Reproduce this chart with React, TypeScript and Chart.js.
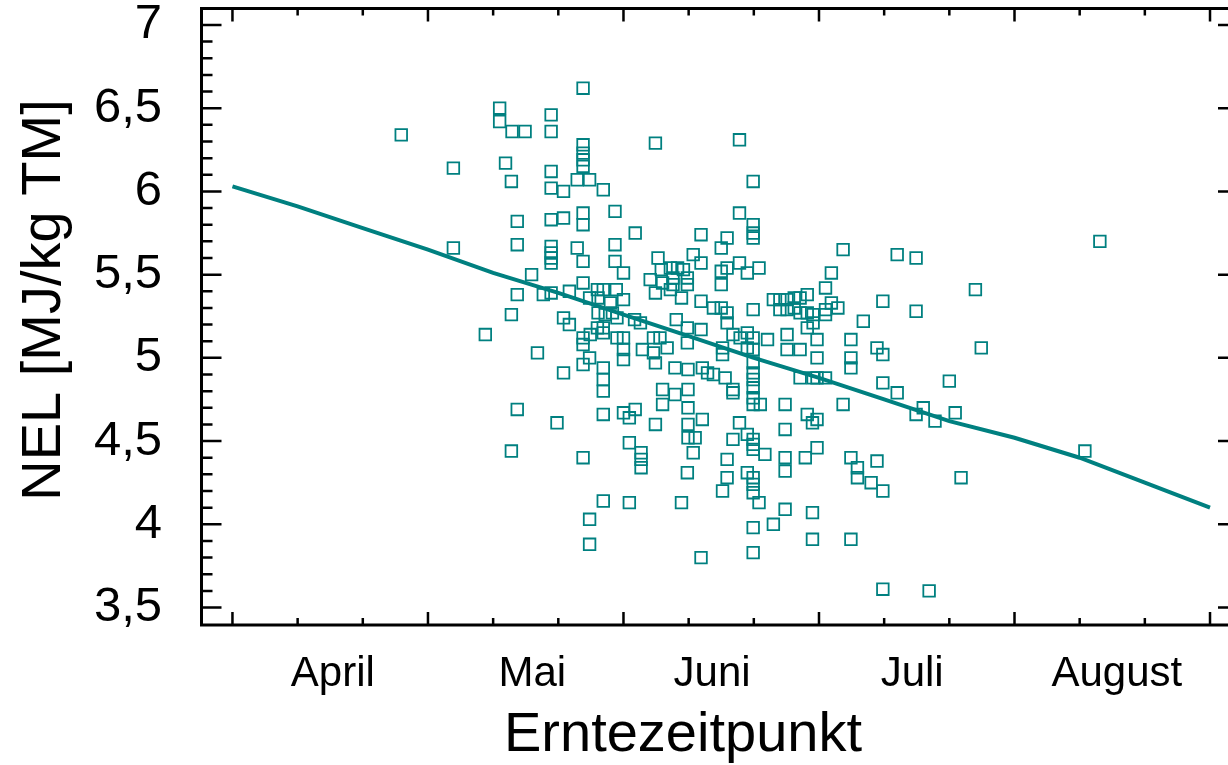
import React, { useEffect, useRef } from 'react';
import { Chart, registerables } from 'chart.js';

Chart.register(...registerables);

// Month labels and their positions (x unit: days since 1 April, 30-day months)
const MONTH_LABELS = ['April', 'Mai', 'Juni', 'Juli', 'August'];
const MONTH_CENTERS = [15.4, 46.0, 73.6, 104.3, 135.7];
const Y_TICKS = [3.5, 4, 4.5, 5, 5.5, 6, 6.5, 7];

// Harvest day (days since 1 April)
const HARVEST_DAY = [
  25.9, 33.9, 33.9, 38.8, 41.0, 41.0, 42.9, 44.9, 41.9, 42.8,
  43.7, 43.7, 45.9, 43.7, 42.8, 46.8, 43.7, 42.8, 47.7, 48.9,
  48.9, 48.9, 48.9, 50.8, 48.9, 50.8, 48.9, 48.9, 48.9, 48.9,
  48.9, 51.7, 50.8, 51.7, 50.8, 49.8, 53.8, 53.8, 53.8, 53.8,
  53.8, 52.9, 54.8, 56.9, 53.8, 53.8, 58.7, 52.9, 53.8, 58.7,
  58.7, 60.0, 53.8, 56.0, 56.9, 58.9, 54.8, 56.1, 58.0, 60.0,
  56.1, 57.2, 58.3, 59.0, 54.9, 53.8, 56.0, 56.9, 59.0, 60.0,
  53.8, 54.8, 53.8, 56.9, 56.9, 56.9, 56.9, 60.0, 60.0, 62.9,
  53.8, 56.9, 60.0, 60.9, 61.8, 60.9, 62.7, 62.7, 62.7, 54.8,
  54.8, 56.9, 60.9, 61.7, 62.6, 61.8, 64.9, 64.1, 65.3, 65.8,
  67.2, 68.3, 69.2, 66.0, 67.6, 67.6, 69.8, 69.8, 64.9, 67.2,
  68.9, 70.7, 71.9, 71.9, 71.9, 73.8, 75.0, 75.9, 75.0, 75.9,
  75.0, 75.0, 75.9, 77.8, 79.9, 79.9, 79.9, 77.8, 79.0, 80.8,
  79.9, 77.8, 68.1, 69.8, 71.9, 69.8, 64.6, 65.6, 66.7, 64.6,
  64.9, 67.9, 69.9, 72.1, 72.9, 73.8, 75.2, 75.2, 75.6, 76.8,
  75.9, 76.8, 79.0, 79.9, 77.9, 82.1, 79.9, 83.0, 84.0, 85.1,
  86.2, 87.1, 88.2, 84.0, 85.1, 86.2, 87.1, 88.2, 89.1, 88.2,
  89.1, 85.1, 85.1, 87.1, 79.0, 79.9, 79.9, 79.9, 79.9, 79.9,
  79.9, 79.9, 81.0, 66.0, 67.9, 69.9, 76.8, 84.8, 87.1, 89.1,
  66.0, 69.9, 72.1, 64.9, 69.9, 69.9, 71.0, 77.8, 76.8, 79.0,
  79.9, 79.9, 79.9, 81.7, 84.8, 88.2, 89.0, 84.8, 84.8, 87.9,
  89.7, 70.7, 75.9, 69.8, 75.9, 75.2, 79.0, 79.9, 79.9, 79.9,
  80.8, 68.9, 84.8, 89.0, 83.0, 79.9, 89.0, 71.9, 79.9, 93.7,
  102.0, 104.9, 91.9, 91.0, 114.0, 91.9, 92.9, 91.0, 91.0, 99.8,
  104.9, 96.8, 94.9, 89.7, 98.9, 99.8, 114.9, 89.7, 94.9, 94.9,
  91.0, 89.7, 99.8, 102.0, 110.0, 93.7, 104.9, 106.0, 107.8, 110.9,
  89.7, 94.9, 95.9, 95.9, 98.9, 98.0, 99.8, 111.8, 94.9, 99.8,
  106.9, 130.8, 133.1,
];

// NEL [MJ/kg TM]
const NEL = [
  6.34, 6.14, 5.66, 5.14, 6.50, 6.42, 6.36, 6.36, 6.17, 6.06,
  5.82, 5.68, 5.50, 5.38, 5.26, 5.03, 4.69, 4.44, 5.38, 6.46,
  6.36, 6.12, 6.02, 6.00, 5.83, 5.84, 5.67, 5.63, 5.60, 5.57,
  5.39, 5.40, 5.24, 5.20, 4.91, 4.61, 6.62, 6.28, 6.23, 6.19,
  6.15, 6.07, 6.07, 6.01, 5.87, 5.80, 5.88, 5.66, 5.58, 5.68,
  5.58, 5.51, 5.45, 5.41, 5.41, 5.41, 5.36, 5.36, 5.33, 5.35,
  5.27, 5.26, 5.27, 5.24, 5.14, 5.12, 5.18, 5.18, 5.12, 5.12,
  5.08, 5.00, 4.96, 4.94, 4.87, 4.80, 5.15, 5.05, 4.99, 5.05,
  4.40, 4.66, 4.67, 4.64, 4.69, 4.49, 4.43, 4.39, 4.34, 4.03,
  3.88, 4.14, 4.13, 5.23, 5.21, 5.75, 6.29, 5.47, 5.60, 5.53,
  5.54, 5.54, 5.53, 5.45, 5.48, 5.44, 5.48, 5.44, 5.39, 5.41,
  5.36, 5.62, 5.57, 5.74, 5.34, 5.30, 5.30, 5.27, 5.52, 5.54,
  5.44, 5.66, 5.72, 5.87, 5.80, 5.75, 5.72, 5.57, 5.51, 5.54,
  6.06, 6.31, 5.23, 5.18, 5.17, 5.09, 5.12, 5.12, 5.06, 5.03,
  4.97, 4.94, 4.93, 4.94, 4.91, 4.90, 5.06, 5.02, 4.88, 4.81,
  5.21, 5.14, 5.15, 5.12, 5.12, 5.11, 5.29, 5.35, 5.35, 5.35,
  5.36, 5.36, 5.38, 5.29, 5.29, 5.30, 5.27, 5.27, 5.26, 5.18,
  5.21, 5.14, 5.05, 5.05, 5.06, 5.05, 4.97, 4.91, 4.87, 4.82,
  4.76, 4.72, 4.72, 4.81, 4.78, 4.81, 4.79, 4.72, 4.88, 4.88,
  4.72, 4.70, 4.63, 4.60, 4.60, 4.52, 4.52, 4.61, 4.51, 4.54,
  4.51, 4.48, 4.45, 4.42, 4.57, 4.66, 4.61, 4.40, 4.32, 4.40,
  4.46, 4.43, 4.39, 4.31, 4.28, 4.20, 4.31, 4.28, 4.24, 4.19,
  4.13, 4.13, 4.09, 4.07, 4.00, 3.98, 3.91, 3.80, 3.83, 5.65,
  5.62, 5.60, 5.51, 5.42, 5.41, 5.33, 5.30, 5.29, 5.26, 5.34,
  5.28, 5.22, 5.11, 5.11, 5.06, 5.02, 5.06, 5.00, 5.00, 4.94,
  4.88, 4.88, 4.85, 4.79, 4.86, 4.72, 4.66, 4.70, 4.62, 4.67,
  4.63, 4.40, 4.34, 4.28, 4.38, 4.25, 4.20, 4.28, 3.91, 3.61,
  3.60, 4.44, 5.70,
];

// Trend line
const TREND_DAY = [0, 10, 20, 30, 40, 50, 60, 70, 80, 90, 100, 110, 120, 130, 140, 150];
const TREND_NEL = [6.03, 5.91, 5.78, 5.65, 5.51, 5.39, 5.26, 5.13, 5.00, 4.88, 4.75, 4.62, 4.52, 4.40, 4.25, 4.10];

const TEAL = '#008080';
const FONT = '"Liberation Sans", Arial, Helvetica, sans-serif';

const framePlugin = {
  id: 'frameTicks',
  beforeDatasetsDraw(chart: any) {
    const { ctx, chartArea: a, scales } = chart;
    const x = scales.x;
    const y = scales.y;
    ctx.save();
    ctx.strokeStyle = '#000';
    ctx.lineWidth = 3;
    ctx.beginPath();
    ctx.moveTo(a.right + 20, a.top);
    ctx.lineTo(a.left, a.top);
    ctx.lineTo(a.left, a.bottom);
    ctx.lineTo(a.right + 20, a.bottom);
    ctx.stroke();

    ctx.lineWidth = 2.5;
    ctx.beginPath();
    for (let i = 0; i <= 35; i++) {
      const v = 3.5 + i * 0.1;
      const py = y.getPixelForValue(v);
      const major = i % 5 === 0;
      const len = major ? 20 : 11;
      ctx.moveTo(a.left, py);
      ctx.lineTo(a.left + len, py);
      if (major) {
        ctx.moveTo(a.right, py);
        ctx.lineTo(a.right - 10, py);
      }
    }
    for (let d = 0; d <= 150; d += 10) {
      const px = x.getPixelForValue(d);
      const len = d % 30 === 0 ? 13 : 7;
      ctx.moveTo(px, a.bottom);
      ctx.lineTo(px, a.bottom - len);
      ctx.moveTo(px, a.top);
      ctx.lineTo(px, a.top + len);
    }
    ctx.stroke();
    ctx.restore();
  },
  afterDraw(chart: any) {
    const { ctx } = chart;
    ctx.save();
    ctx.fillStyle = '#000';
    ctx.font = `56px ${FONT}`;
    ctx.textAlign = 'center';
    ctx.textBaseline = 'alphabetic';
    ctx.fillText('Erntezeitpunkt', 683, 751);
    ctx.translate(60, 300);
    ctx.rotate(-Math.PI / 2);
    ctx.fillText('NEL [MJ/kg TM]', 0, 0);
    ctx.restore();
  },
};

export default function App() {
  const canvasRef = useRef<HTMLCanvasElement | null>(null);

  useEffect(() => {
    const canvas = canvasRef.current;
    if (!canvas) return;
    const points = HARVEST_DAY.map((d, i) => ({ x: d, y: NEL[i] }));
    const trend = TREND_DAY.map((d, i) => ({ x: d, y: TREND_NEL[i] }));

    const chart = new Chart(canvas, {
      type: 'scatter',
      data: {
        datasets: [
          {
            type: 'line',
            label: 'Trend',
            data: trend,
            borderColor: TEAL,
            borderWidth: 4,
            pointRadius: 0,
            fill: false,
            tension: 0,
            showLine: true,
          } as any,
          {
            label: 'NEL',
            data: points,
            pointStyle: 'rect',
            pointRadius: 8.2,
            pointBorderWidth: 1.8,
            borderColor: TEAL,
            pointBorderColor: TEAL,
            backgroundColor: 'rgba(0,0,0,0)',
            pointBackgroundColor: 'rgba(0,0,0,0)',
          } as any,
        ],
      },
      options: {
        responsive: false,
        animation: false,
        devicePixelRatio: 1,
        layout: { autoPadding: false, padding: { top: 8.5, left: 0, right: 0, bottom: 0 } },
        plugins: {
          legend: { display: false },
          tooltip: { enabled: false },
          title: { display: false },
        },
        scales: {
          x: {
            type: 'linear',
            position: 'bottom',
            min: -4.75,
            max: 152.76,
            grid: { display: false, drawTicks: false },
            border: { display: false },
            afterBuildTicks: (scale: any) => {
              scale.ticks = MONTH_CENTERS.map((v) => ({ value: v }));
            },
            afterFit: (scale: any) => {
              scale.height = 140;
              scale.paddingLeft = 0;
              scale.paddingRight = 0;
            },
            ticks: {
              autoSkip: false,
              maxRotation: 0,
              minRotation: 0,
              padding: 24,
              color: '#000',
              font: { family: FONT, size: 42 },
              callback: (value: any) => {
                const idx = MONTH_CENTERS.indexOf(Number(value));
                return idx >= 0 ? MONTH_LABELS[idx] : '';
              },
            },
          },
          y: {
            type: 'linear',
            min: 3.395,
            max: 7.099,
            grid: { display: false, drawTicks: false },
            border: { display: false },
            afterBuildTicks: (scale: any) => {
              scale.ticks = Y_TICKS.map((v) => ({ value: v }));
            },
            afterFit: (scale: any) => {
              scale.width = 201.5;
              scale.paddingTop = 0;
              scale.paddingBottom = 0;
            },
            ticks: {
              autoSkip: false,
              padding: 39.5,
              color: '#000',
              font: { family: FONT, size: 49 },
              callback: (value: any) => String(value).replace('.', ','),
            },
          },
        },
      },
      plugins: [framePlugin],
    });

    return () => {
      chart.destroy();
    };
  }, []);

  return (
    <div style={{ position: 'absolute', left: 0, top: 0, width: 1228, height: 765, background: '#fff' }}>
      <canvas ref={canvasRef} width={1228} height={765} style={{ display: 'block', width: 1228, height: 765 }} />
    </div>
  );
}
